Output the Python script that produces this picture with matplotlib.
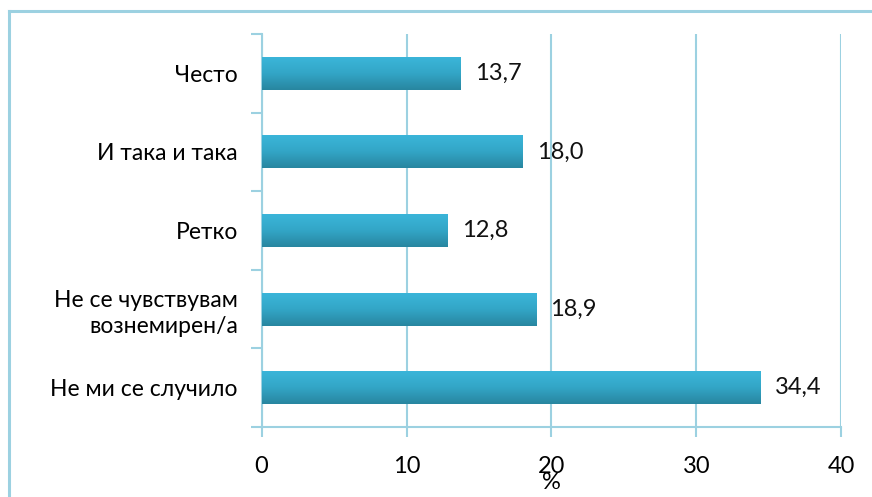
# horizontal bar chart, percentages per answer

import numpy as np
import matplotlib.pyplot as plt
from matplotlib.colors import LinearSegmentedColormap
from matplotlib.lines import Line2D

categories = ['Често', 'И така и така', 'Ретко',
              'Не се чувствувам\nвознемирен/а', 'Не ми се случило']
values = [13.7, 18.0, 12.8, 18.9, 34.4]
xticks = [0, 10, 20, 30, 40]

edge = '#9CD1E1'  # light blue of axes, grid and frame
grad = LinearSegmentedColormap.from_list('bar', ['#2886A0', '#33A6C7', '#3BB6DA'])

plt.rcParams['font.family'] = ['Lato', 'DejaVu Sans']

fig = plt.figure(figsize=(8.72, 4.97), dpi=100)
ax = fig.add_axes([0.2999, 0.1408, 0.6651, 0.7908])

ypos = np.arange(len(categories))[::-1]  # first category at top
bars = ax.barh(ypos, values, height=0.42, color='#35ABCD', zorder=3)

# vertical gradient on each bar
g = np.linspace(0, 1, 64).reshape(-1, 1)
for b in bars:
    x0, y0 = b.get_x(), b.get_y()
    im = ax.imshow(g, cmap=grad, aspect='auto', origin='lower', zorder=3,
                   extent=(x0, x0 + b.get_width(), y0, y0 + b.get_height()))
    im.set_clip_path(b)

for y, v in zip(ypos, values):
    ax.text(v + 1.0, y, f'{v:.1f}'.replace('.', ','), va='center', ha='left',
            fontsize=17, color='#111111', zorder=4)

ax.set_xlim(0, 40)
ax.set_ylim(-0.5, len(categories) - 0.5)
ax.set_xticks(xticks)
ax.set_yticks(ypos)
ax.set_yticklabels(categories, fontsize=16.5, linespacing=1.3)
ax.set_yticks(np.arange(-0.5, len(categories)), minor=True)
ax.tick_params(axis='y', which='major', length=0, pad=17)
ax.tick_params(axis='y', which='minor', length=8, width=1.5, color=edge)
ax.tick_params(axis='x', length=7, width=1.5, color=edge, labelsize=17, pad=14)
ax.set_xlabel('%', fontsize=17, labelpad=-4)

ax.grid(axis='x', color=edge, linewidth=1.5, zorder=0)
ax.set_axisbelow(True)
for s in ['top', 'right']:
    ax.spines[s].set_visible(False)
for s in ['left', 'bottom']:
    ax.spines[s].set_color(edge)
    ax.spines[s].set_linewidth(1.5)

# outer frame, cut by the picture on the right and bottom
fig.add_artist(Line2D([9 / 872, 9 / 872], [0, 1 - 11 / 497], color=edge, lw=2.2))
fig.add_artist(Line2D([9 / 872, 1], [1 - 11 / 497, 1 - 11 / 497], color=edge, lw=2.2))

fig.savefig('out.png', dpi=100)
